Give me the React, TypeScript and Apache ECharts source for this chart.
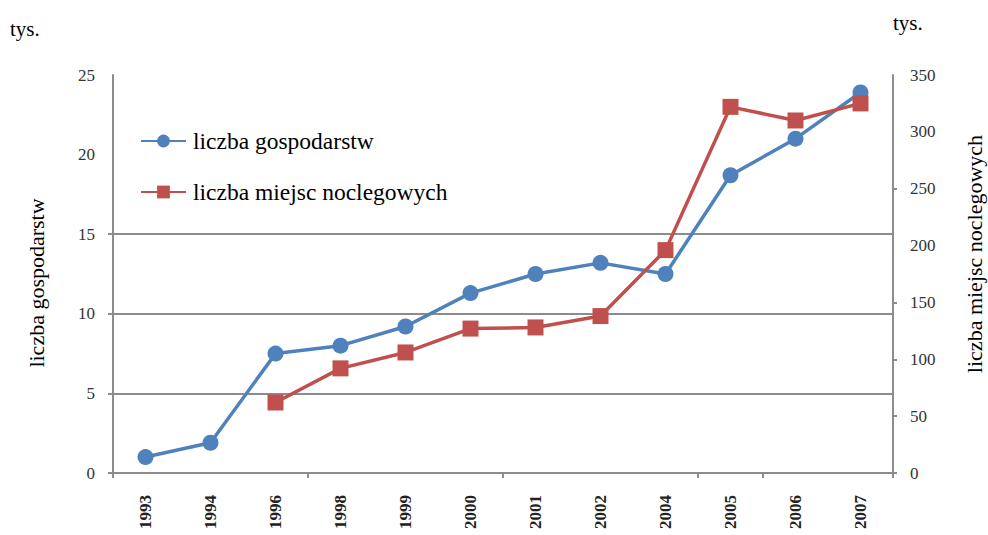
import React, { useEffect, useRef } from "react";
import * as echarts from "echarts";

const years = ["1993", "1994", "1996", "1998", "1999", "2000", "2001", "2002", "2004", "2005", "2006", "2007"];
const gospodarstw = [1.0, 1.9, 7.5, 8.0, 9.2, 11.3, 12.5, 13.2, 12.5, 18.7, 21.0, 23.9];
const miejsca: (number | string)[] = ["-", "-", 62, 92, 106, 127, 128, 138, 196, 322, 310, 325];
const leftTicks = [0, 5, 10, 15, 20, 25];
const rightTicks = [0, 50, 100, 150, 200, 250, 300, 350];
const gridValues = [5, 10, 15];
const xTickIdx = [0, 3, 6, 9, 10];

const FONT = '"Liberation Serif", "Times New Roman", serif';
const BLUE = "#4F81BD";
const RED = "#C0504D";
const AXIS = "#8c8c8c";

export default function App() {
  const ref = useRef<HTMLDivElement>(null);
  useEffect(() => {
    if (!ref.current) return;
    const chart = echarts.init(ref.current, null, { renderer: "svg" });
    chart.setOption({
      animation: false,
      backgroundColor: "#ffffff",
      textStyle: { fontFamily: FONT },
      grid: { left: 113, right: 95, top: 75, bottom: 62, containLabel: false },
      legend: {
        orient: "vertical",
        left: 135,
        top: 124,
        itemWidth: 45,
        itemHeight: 16,
        itemGap: 27,
        textStyle: { fontFamily: FONT, fontSize: 23.5, color: "#000", padding: [0, 0, 0, 2] },
        data: ["liczba gospodarstw", "liczba miejsc noclegowych"],
      },
      xAxis: {
        type: "category",
        data: years,
        boundaryGap: true,
        axisLine: { lineStyle: { color: AXIS, width: 2 } },
        axisTick: {
          show: true,
          length: 5,
          lineStyle: { color: AXIS, width: 2 },
          interval: (i: number) => xTickIdx.includes(i),
        },
        axisLabel: {
          rotate: 90,
          margin: 22,
          fontFamily: FONT,
          fontSize: 17,
          fontWeight: "bold",
          color: "#222",
          interval: 0,
        },
        splitLine: { show: false },
      },
      yAxis: [
        {
          type: "value",
          min: 0,
          max: 25,
          interval: 5,
          position: "left",
          axisLine: { show: true, lineStyle: { color: AXIS, width: 2 } },
          axisTick: { show: true, length: 5, lineStyle: { color: AXIS, width: 2 }, customValues: [0, 5, 10, 15] },
          axisLabel: { margin: 18, fontFamily: FONT, fontSize: 17, color: "#333", customValues: leftTicks },
          splitLine: { show: false },
        },
        {
          type: "value",
          min: 0,
          max: 350,
          interval: 50,
          position: "right",
          axisLine: { show: true, lineStyle: { color: AXIS, width: 2 } },
          axisTick: { show: true, length: 4, lineStyle: { color: AXIS, width: 2 }, customValues: [0, 50, 100, 150, 250] },
          axisLabel: { margin: 17, fontFamily: FONT, fontSize: 17, color: "#333", customValues: rightTicks },
          splitLine: { show: false },
        },
      ],
      series: [
        {
          name: "liczba gospodarstw",
          type: "line",
          yAxisIndex: 0,
          data: gospodarstw,
          symbol: "circle",
          symbolSize: 16,
          itemStyle: { color: BLUE },
          lineStyle: { color: BLUE, width: 3.5 },
          z: 3,
          markLine: {
            silent: true,
            symbol: "none",
            label: { show: false },
            lineStyle: { color: AXIS, width: 2, type: "solid" },
            data: gridValues.map((v) => ({ yAxis: v })),
            z: 1,
          },
        },
        {
          name: "liczba miejsc noclegowych",
          type: "line",
          yAxisIndex: 1,
          data: miejsca,
          symbol: "rect",
          symbolSize: 16,
          itemStyle: { color: RED },
          lineStyle: { color: RED, width: 3.5 },
          z: 4,
        },
      ],
      graphic: [
        {
          type: "text",
          left: 10,
          top: 18,
          style: { text: "tys.", fontFamily: FONT, fontSize: 21, fill: "#000" },
        },
        {
          type: "text",
          left: 893,
          top: 12,
          style: { text: "tys.", fontFamily: FONT, fontSize: 21, fill: "#000" },
        },
        {
          type: "text",
          x: 36,
          y: 283,
          rotation: Math.PI / 2,
          style: {
            text: "liczba gospodarstw",
            fontFamily: FONT,
            fontSize: 22,
            fill: "#000",
            align: "center",
            verticalAlign: "middle",
          },
        },
        {
          type: "text",
          x: 974,
          y: 254,
          rotation: Math.PI / 2,
          style: {
            text: "liczba miejsc noclegowych",
            fontFamily: FONT,
            fontSize: 22,
            fill: "#000",
            align: "center",
            verticalAlign: "middle",
          },
        },
      ],
    });
    return () => chart.dispose();
  }, []);
  return <div ref={ref} style={{ width: 988, height: 535, position: "absolute", left: 0, top: 0 }} />;
}
